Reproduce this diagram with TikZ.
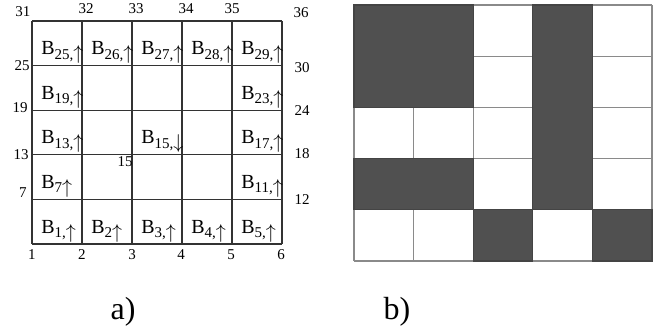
\documentclass[tikz,border=0pt]{standalone}
\usepackage{fontspec}
\setmainfont{Liberation Serif}
\definecolor{blockgray}{HTML}{505050}
\definecolor{linegray}{HTML}{8A8A8A}
\newcommand{\bsub}[1]{\raisebox{-0.5ex}{\fontsize{7.5}{8}\selectfont #1}}
\newcommand{\barrow}[1]{\raisebox{-0.55ex}{$#1$}}
\begin{document}
\begin{tikzpicture}[x=0.5pt, y=-0.5pt,
    gline/.style={line width=0.6pt, black!80},
    rline/.style={line width=0.6pt, linegray},
    block/.style={fill=blockgray, draw=blockgray!85!black, line width=0.6pt},
    num/.style={font=\fontsize{7.5}{8}\selectfont, inner sep=0pt},
    blab/.style={font=\fontsize{10}{12}\selectfont, inner sep=0pt, anchor=base west},
    caption/.style={font=\fontsize{16}{18}\selectfont, inner sep=0pt}]
    \useasboundingbox (0,0) rectangle (665,334);

    % a) grid of cells
    \foreach \i in {0,...,5} {
      \draw[gline] (32+50*\i,21) -- (32+50*\i,244);
      \draw[gline] (32,21+44.6*\i) -- (282,21+44.6*\i);
    }

    % vertex numbers
    \foreach \t/\x/\y in {1/32/255, 2/82/255, 3/132/255, 4/181/255, 5/231/255, 6/281/255,
        31/23/12, 32/86/9, 33/136/9, 34/186/9, 35/232/9, 36/301/13,
        25/22/66, 19/20/108, 13/21/155, 7/23/193,
        30/302/68, 24/302/111, 18/302/154, 12/302/200, 15/125/162}
      \node[num] (v\t) at (\x,\y) {\t};

    % cell labels, column / row counted from the lower left
    \foreach \n/\c/\r/\a in {{1,}/0/0/\uparrow, 2/1/0/\uparrow, {3,}/2/0/\uparrow,
        {4,}/3/0/\uparrow, {5,}/4/0/\uparrow,
        7/0/1/\uparrow, {11,}/4/1/\uparrow,
        {13,}/0/2/\uparrow, {15,}/2/2/\downarrow, {17,}/4/2/\uparrow,
        {19,}/0/3/\uparrow, {23,}/4/3/\uparrow,
        {25,}/0/4/\uparrow, {26,}/1/4/\uparrow, {27,}/2/4/\uparrow,
        {28,}/3/4/\uparrow, {29,}/4/4/\uparrow}
      \node[blab] (b\c\r) at (32+50*\c+9, 244-44.6*\r-11) {B\bsub{\n}\barrow{\a}};

    % b) occupied cells
    \foreach \i in {0,...,5} {
      \draw[rline] (354+59.6*\i,5) -- (354+59.6*\i,261);
      \draw[rline] (354,5+51.2*\i) -- (652,5+51.2*\i);
    }
    \filldraw[block] (354,5) rectangle (473.2,107.4);
    \filldraw[block] (532.8,5) rectangle (592.4,209.8);
    \filldraw[block] (354,158.6) rectangle (473.2,209.8);
    \filldraw[block] (473.2,209.8) rectangle (532.8,261);
    \filldraw[block] (592.4,209.8) rectangle (652,261);

    \node[caption] (capa) at (123,312) {a)};
    \node[caption] (capb) at (397,312) {b)};
\end{tikzpicture}
\end{document}
